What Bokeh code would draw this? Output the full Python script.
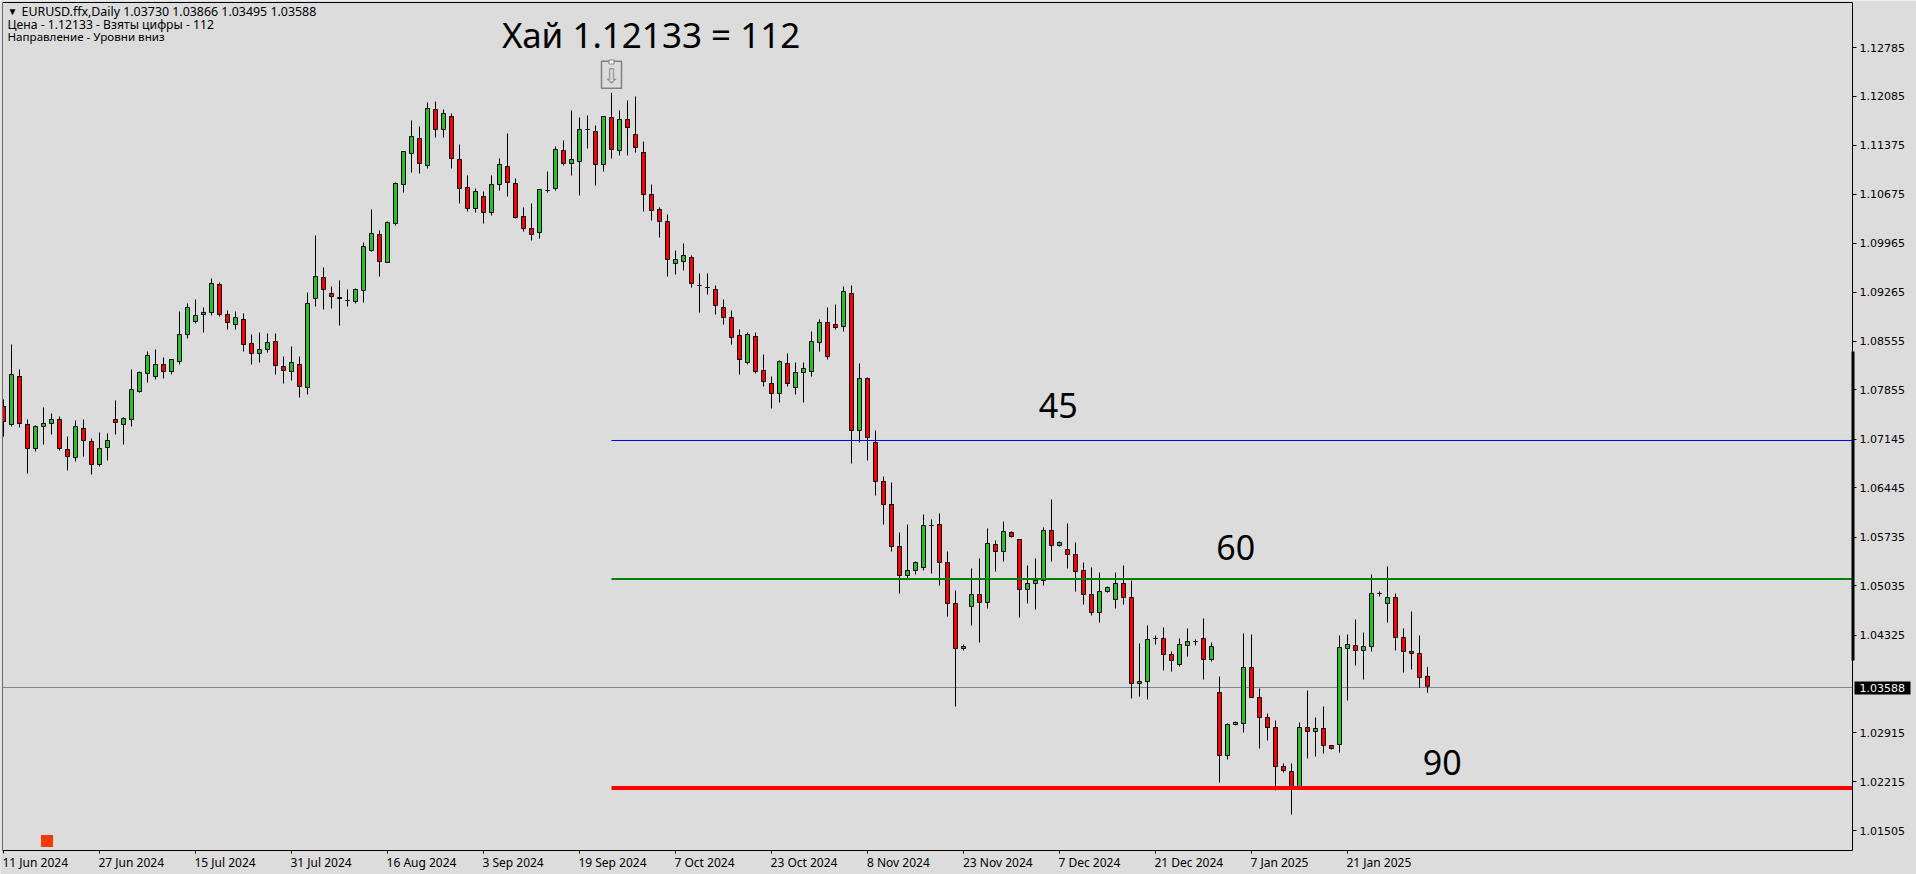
from bokeh.plotting import figure
from bokeh.models import (Range1d, FixedTicker, NumeralTickFormatter, Label,
                          BoxAnnotation, ColumnDataSource, LinearAxis)
from bokeh.core.properties import value
from bokeh.embed import file_html
from bokeh.resources import INLINE

highs = [
 1.07717,1.08509,1.08149,1.07429,1.07343,1.07602,1.07516,1.07472,1.07184,1.07415,
 1.07429,1.07156,1.07242,1.07228,1.07703,1.07458,1.08149,1.08120,1.08408,1.08437,
 1.08322,1.08293,1.08984,1.09100,1.09157,1.09042,1.09460,1.09402,1.08999,1.08984,
 1.08956,1.08653,1.08682,1.08668,1.08668,1.08336,1.08480,1.08336,1.09258,1.10079,
 1.09618,1.09344,1.09431,1.09301,1.09316,1.09978,1.10453,1.10151,1.10280,1.10842,
 1.11288,1.11735,1.11648,1.11994,1.12008,1.11893,1.11836,1.11389,1.10943,1.10756,
 1.10712,1.10943,1.11188,1.11548,1.10900,1.10482,1.10540,1.10741,1.11000,1.11360,
 1.11447,1.11879,1.11778,1.11807,1.11663,1.11792,1.12133,1.11879,1.12023,1.12080,
 1.11432,1.10813,1.10482,1.10381,1.09863,1.09964,1.09791,1.09532,1.09532,1.09359,
 1.09157,1.08999,1.08725,1.08682,1.08682,1.08365,1.08048,1.08279,1.08380,1.08250,
 1.08250,1.08696,1.08869,1.09042,1.09085,1.09344,1.09359,1.08236,1.08034,1.07271,
 1.06608,1.06522,1.05802,1.05917,1.05384,1.06061,1.05989,1.06076,1.05528,1.04967,
 1.04189,1.05284,1.05428,1.05860,1.05687,1.05960,1.05816,1.05701,1.05327,1.05428,
 1.05874,1.06277,1.05672,1.05932,1.05658,1.05370,1.05298,1.05226,1.05024,1.05226,
 1.05327,1.05111,1.04204,1.04463,1.04319,1.04434,1.04088,1.04276,1.04420,1.04261,
 1.04564,1.04218,1.03728,1.03052,1.03080,1.04348,1.04333,1.03556,1.03196,1.03095,
 1.02476,1.02476,1.03066,1.03527,1.03138,1.03296,1.02735,1.04319,1.04333,1.04549,
 1.04362,1.05197,1.04952,1.05312,1.04924,1.04420,1.04664,1.04319,1.03866]

lows = [
 1.07184,1.07328,1.07314,1.06652,1.06968,1.07069,1.07213,1.06983,1.06695,1.06824,
 1.06896,1.06637,1.06752,1.06839,1.07213,1.07069,1.07328,1.07818,1.07962,1.08005,
 1.08020,1.08077,1.08221,1.08596,1.08812,1.08682,1.08927,1.08912,1.08725,1.08725,
 1.08408,1.08221,1.08250,1.08394,1.08077,1.07948,1.07991,1.07746,1.07789,1.09056,
 1.09013,1.09028,1.08783,1.09056,1.09100,1.09114,1.09848,1.09488,1.09690,1.10223,
 1.10698,1.10986,1.10972,1.11044,1.11490,1.11490,1.11044,1.10540,1.10424,1.10410,
 1.10252,1.10367,1.10727,1.10640,1.10324,1.10136,1.10007,1.10036,1.10698,1.10727,
 1.11087,1.10943,1.10655,1.11332,1.10799,1.11000,1.11188,1.11231,1.11231,1.11274,
 1.10424,1.10295,1.10050,1.09488,1.09517,1.09575,1.09330,1.08970,1.09229,1.08941,
 1.08797,1.08509,1.08077,1.08221,1.08092,1.07904,1.07588,1.07674,1.07904,1.07789,
 1.07674,1.08048,1.08408,1.08293,1.08725,1.08696,1.06796,1.07098,1.06839,1.06335,
 1.05917,1.05528,1.04924,1.05125,1.05197,1.05255,1.05212,1.05039,1.04592,1.03296,
 1.04103,1.04463,1.04218,1.04708,1.05240,1.05384,1.05730,1.04578,1.04780,1.04693,
 1.05039,1.05384,1.05600,1.05284,1.04952,1.04765,1.04607,1.04506,1.04938,1.04708,
 1.04765,1.03412,1.03440,1.03397,1.04189,1.03815,1.03800,1.03872,1.04016,1.04175,
 1.03685,1.03944,1.02202,1.02533,1.03023,1.02922,1.03426,1.02692,1.02807,1.02087,
 1.02346,1.01741,1.02144,1.02548,1.02576,1.02620,1.02677,1.02634,1.03383,1.03887,
 1.03685,1.04088,1.04880,1.04506,1.04103,1.03786,1.03829,1.03570,1.03495]

opens = [
 1.07616,1.07357,1.08048,1.07357,1.07012,1.07328,1.07372,1.07429,1.06997,1.06882,
 1.07300,1.07112,1.06781,1.07026,1.07429,1.07357,1.07429,1.07832,1.08092,1.08048,
 1.08221,1.08120,1.08264,1.08653,1.08840,1.08941,1.08970,1.09373,1.08941,1.08797,
 1.08869,1.08524,1.08380,1.08437,1.08552,1.08192,1.08120,1.08221,1.07890,1.09172,
 1.09474,1.09244,1.09186,1.09143,1.09128,1.09287,1.09863,1.10093,1.09690,1.10252,
 1.10813,1.11260,1.11476,1.11087,1.11893,1.11605,1.11792,1.11173,1.10770,1.10468,
 1.10640,1.10410,1.10813,1.11072,1.10828,1.10352,1.10180,1.10122,1.10727,1.10756,
 1.11303,1.11116,1.11144,1.11605,1.11576,1.11101,1.11778,1.11303,1.11749,1.11533,
 1.11274,1.10669,1.10453,1.10280,1.09676,1.09704,1.09762,1.09359,1.09330,1.09301,
 1.09042,1.08898,1.08639,1.08250,1.08624,1.08135,1.07948,1.07804,1.08236,1.07890,
 1.08106,1.08120,1.08538,1.08826,1.08797,1.08768,1.09244,1.07271,1.08020,1.07098,
 1.06536,1.06205,1.05600,1.05183,1.05255,1.05298,1.05903,1.05917,1.05370,1.04780,
 1.04132,1.04736,1.04909,1.04794,1.05629,1.05528,1.05802,1.05701,1.04981,1.05068,
 1.05111,1.05831,1.05615,1.05557,1.05485,1.05255,1.04909,1.04650,1.04952,1.04837,
 1.05068,1.04866,1.03628,1.03656,1.04276,1.04276,1.04045,1.03901,1.04175,1.04232,
 1.04276,1.03973,1.03498,1.02591,1.03037,1.03052,1.03858,1.03426,1.03138,1.02994,
 1.02432,1.02360,1.02144,1.02994,1.02936,1.02980,1.02735,1.02749,1.04132,1.04175,
 1.04103,1.04160,1.04924,1.04780,1.04866,1.04290,1.04088,1.04060,1.03730]

closes = [
 1.07400,1.08077,1.07372,1.07012,1.07328,1.07372,1.07429,1.07012,1.06896,1.07328,
 1.07127,1.06781,1.07012,1.07127,1.07386,1.07444,1.07861,1.08106,1.08351,1.08221,
 1.08120,1.08293,1.08653,1.09042,1.08927,1.08970,1.09388,1.08941,1.08826,1.08898,
 1.08509,1.08380,1.08437,1.08538,1.08207,1.08135,1.08250,1.07904,1.09100,1.09488,
 1.09301,1.09200,1.09172,1.09143,1.09301,1.09920,1.10108,1.09704,1.10266,1.10828,
 1.11288,1.11504,1.11116,1.11908,1.11605,1.11836,1.11188,1.10756,1.10468,1.10712,
 1.10410,1.10813,1.11101,1.10842,1.10338,1.10180,1.10093,1.10741,1.10727,1.11317,
 1.11116,1.11173,1.11605,1.11605,1.11101,1.11792,1.11317,1.11749,1.11634,1.11346,
 1.10669,1.10439,1.10280,1.09733,1.09733,1.09791,1.09388,1.09359,1.09330,1.09071,
 1.08898,1.08610,1.08293,1.08653,1.08120,1.07976,1.07804,1.08264,1.07948,1.08106,
 1.08164,1.08552,1.08826,1.08336,1.08754,1.09272,1.07271,1.08020,1.07170,1.06536,
 1.06205,1.05600,1.05183,1.05255,1.05370,1.05903,1.05903,1.05370,1.04780,1.04132,
 1.04160,1.04909,1.04794,1.05644,1.05528,1.05816,1.05744,1.04981,1.05068,1.05111,
 1.05831,1.05615,1.05658,1.05485,1.05240,1.04909,1.04650,1.04952,1.05010,1.05068,
 1.04866,1.03628,1.03656,1.04261,1.04276,1.04045,1.03959,1.04189,1.04232,1.04232,
 1.03973,1.04160,1.02591,1.03037,1.03066,1.03858,1.03426,1.03138,1.02994,1.02432,
 1.02375,1.02144,1.02994,1.02936,1.02980,1.02735,1.02692,1.04146,1.04189,1.04103,
 1.04160,1.04924,1.04924,1.04866,1.04290,1.04088,1.04060,1.03714,1.03588]

price_ticks = [1.12785,1.12085,1.11375,1.10675,1.09965,1.09265,1.08555,1.07855,1.07145,
               1.06445,1.05735,1.05035,1.04325,1.02915,1.02215,1.01505]
date_labels = ["11 Jun 2024","27 Jun 2024","15 Jul 2024","31 Jul 2024","16 Aug 2024",
               "3 Sep 2024","19 Sep 2024","7 Oct 2024","23 Oct 2024","8 Nov 2024",
               "23 Nov 2024","7 Dec 2024","21 Dec 2024","7 Jan 2025","21 Jan 2025"]
date_bars = [0,12,24,36,48,60,72,84,96,108,120,132,144,156,168]
date_label_centres = [3.97,15.97,27.7,39.7,52.25,63.7,76.125,87.625,100.06,111.86,
                      124.29,135.73,148.16,159.49,171.92]

level_start_bar = 76
level_prices = [1.07127, 1.05132, 1.02123]
level_colors = ["#0000ff", "#008000", "#ff0000"]
level_widths = [1, 2, 4]
level_names = ["45", "60", "90"]
level_name_bars = [129.4, 151.6, 177.4]
level_name_prices = [1.07628, 1.05583, 1.02487]
last_price_line = 1.03570
last_price_text = "1.03588"

# chart box inside the page-wide plotting area
BOX_LEFT, BOX_RIGHT = -0.125, 231.125
BOX_BOTTOM, BOX_TOP = 1.012228, 1.13434

BG = "#dcdcdc"
UP = "#22c322"
DOWN = "#ff0000"

n = len(closes)
bars = list(range(n))
colors = [UP if c > o else DOWN if c < o else "#000000" for o, c in zip(opens, closes)]
src = ColumnDataSource(dict(
    x=bars, high=highs, low=lows,
    top=[max(o, c) for o, c in zip(opens, closes)],
    bottom=[min(o, c) for o, c in zip(opens, closes)],
    color=colors))

p = figure(width=1916, height=874, output_backend="svg", toolbar_location=None,
           x_range=Range1d(-0.375, 239.125), y_range=Range1d(1.008772, 1.134628),
           x_axis_location=None, y_axis_location=None,
           min_border_left=0, min_border_right=0, min_border_top=0, min_border_bottom=0,
           background_fill_color=BG, border_fill_color=BG, outline_line_color=None)
p.grid.visible = False

yax = LinearAxis(fixed_location=BOX_RIGHT, bounds=(BOX_BOTTOM, BOX_TOP),
                 ticker=FixedTicker(ticks=price_ticks),
                 formatter=NumeralTickFormatter(format="0.00000"),
                 major_tick_out=4, major_tick_in=0, minor_tick_line_color=None,
                 major_label_standoff=3, major_label_text_font="DejaVu Sans",
                 major_label_text_font_size="11px", major_label_text_color="#000000",
                 axis_line_color="#000000", major_tick_line_color="#000000")
p.add_layout(yax, "right")

xax = LinearAxis(fixed_location=BOX_BOTTOM, bounds=(BOX_LEFT, BOX_RIGHT),
                 ticker=FixedTicker(ticks=date_bars),
                 major_label_overrides={b: " " for b in date_bars},
                 major_tick_out=3, major_tick_in=0, minor_tick_line_color=None,
                 major_label_text_font_size="1px", major_label_standoff=0,
                 axis_line_color="#000000", major_tick_line_color="#000000")
p.add_layout(xax, "below")

dax = LinearAxis(fixed_location=BOX_BOTTOM, ticker=FixedTicker(ticks=date_label_centres),
                 major_label_overrides=dict(zip(date_label_centres, date_labels)),
                 major_tick_line_color=None, minor_tick_line_color=None, axis_line_color=None,
                 major_tick_out=0, major_tick_in=0, major_label_standoff=3,
                 major_label_text_font="Noto Sans", major_label_text_font_size="12px",
                 major_label_text_color="#000000")
p.add_layout(dax, "below")

p.segment([BOX_LEFT], [last_price_line], [BOX_RIGHT], [last_price_line], line_color="#778899", line_width=1)

p.segment("x", "high", "x", "low", source=src, line_color="#000000", line_width=1)
p.vbar(x="x", top="top", bottom="bottom", width=0.5, source=src,
       fill_color="color", line_color="#000000", line_width=1)

# the box's left side hides what lies left of it; the top and left sides are drawn here
p.add_layout(BoxAnnotation(left=-0.375, right=BOX_LEFT, fill_color=BG, fill_alpha=1, line_color=None))
p.segment([BOX_LEFT, BOX_LEFT], [BOX_BOTTOM, BOX_TOP], [BOX_LEFT, BOX_RIGHT], [BOX_TOP, BOX_TOP],
          line_color="#000000", line_width=1)

for price, col, w in zip(level_prices, level_colors, level_widths):
    p.segment([level_start_bar], [price], [BOX_RIGHT], [price], line_color=col, line_width=w)

p.text(level_name_bars, level_name_prices, text=level_names, text_font=value("Noto Sans"),
       text_font_size="34px", text_color="#000000", text_baseline="alphabetic")
p.text([62.3], [1.1297], text=["Хай 1.12133 = 112"], text_font=value("Noto Sans"),
       text_font_size="35px", text_color="#000000", text_baseline="alphabetic")

# object on the high of the peak bar
p.rect([level_start_bar], [1.12393], width=20, height=27, width_units="screen", height_units="screen",
       fill_color=None, line_color="#808080", line_width=1.5)
p.text([level_start_bar], [1.12370], text=["⇩"], text_font=value("DejaVu Sans"), text_font_size="20px",
       text_color="#8c8c8c", text_align="center", text_baseline="middle")
p.rect([level_start_bar], [1.12577], width=5, height=4, width_units="screen", height_units="screen",
       fill_color="#ffffff", line_color="#808080", line_width=1)

# indicator square near the bottom left
p.rect([5.44], [1.0136], width=12, height=12, width_units="screen", height_units="screen",
       fill_color="#f23a00", line_color=None)

for x, y, size, t in [(7, 864, "10px", "▼"),
                      (21, 863, "12.4px", "EURUSD.ffx,Daily  1.03730 1.03866 1.03495 1.03588"),
                      (7, 850, "12.2px", "Цена - 1.12133 - Взяты цифры - 112"),
                      (7, 838, "11.6px", "Направление - Уровни вниз")]:
    p.add_layout(Label(x=x, y=y, x_units="screen", y_units="screen", text=t,
                       text_font="Noto Sans", text_font_size=size,
                       text_color="#000000", text_baseline="alphabetic"))

# black price tag on the axis and the thick bar on the axis line
p.add_layout(BoxAnnotation(left=1854, right=1910, left_units="screen", right_units="screen",
                           top=1.036564, bottom=1.034692, fill_color="#000000", fill_alpha=1,
                           line_color=None))
p.add_layout(Label(x=1859, y=187, x_units="screen", y_units="screen", text=last_price_text,
                   text_font="DejaVu Sans", text_font_size="11px", text_color="#ffffff",
                   text_baseline="middle"))
p.add_layout(BoxAnnotation(left=1851, right=1854, left_units="screen", right_units="screen",
                           top=1.084084, bottom=1.039588, fill_color="#000000", fill_alpha=1,
                           line_color=None))

open("out.html", "w").write(file_html(p, INLINE))
